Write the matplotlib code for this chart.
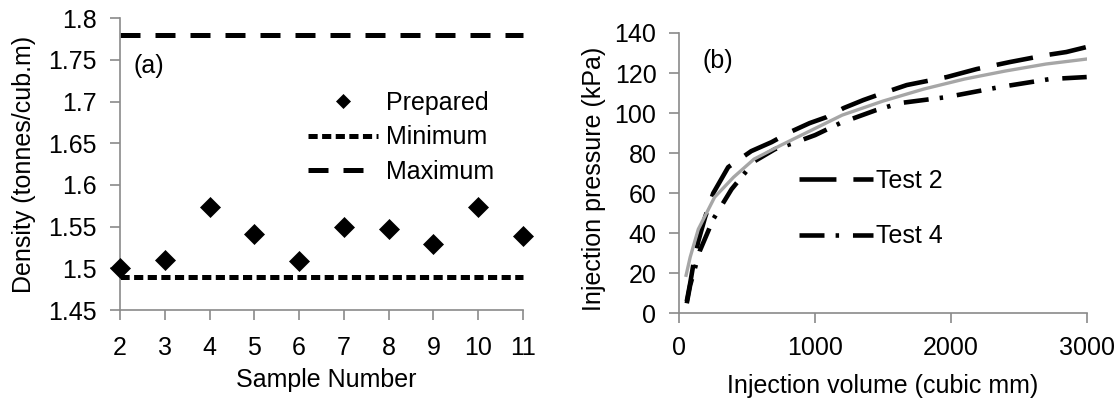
import matplotlib
matplotlib.use('Agg')
import matplotlib.pyplot as plt

plt.rcParams['font.family'] = ['Liberation Sans', 'DejaVu Sans']
plt.rcParams['lines.scale_dashes'] = False

# ---------------- data ----------------
samples = [2, 3, 4, 5, 6, 7, 8, 9, 10, 11]
density = [1.500, 1.510, 1.573, 1.541, 1.509, 1.549, 1.547, 1.529, 1.573, 1.539]
min_density = 1.49
max_density = 1.78
yticks_a = [1.45, 1.5, 1.55, 1.6, 1.65, 1.7, 1.75, 1.8]
yticklabels_a = ['1.45', '1.5', '1.55', '1.6', '1.65', '1.7', '1.75', '1.8']

test2_vol = [55, 80, 105, 140, 190, 250, 360, 530, 680, 815, 960, 1085, 1210,
             1355, 1500, 1675, 1970, 2190, 2435, 2705, 2850, 3000]
test2_pres = [6, 15, 25, 36, 48, 60, 73, 81, 85.5, 90.5, 95, 98, 102.5,
              106.5, 110, 114, 118, 122, 125.5, 129, 130.5, 133]
test4_vol = [55, 80, 150, 250, 385, 555, 705, 840, 1000, 1185, 1450, 1625,
             1970, 2360, 2730, 3000]
test4_pres = [5, 14, 31, 47, 62, 76, 82, 85, 89, 95, 101.5, 105,
              108, 113, 117, 118]
fit_vol = [50, 80, 140, 260, 400, 550, 750, 900, 1200, 1500, 1800, 2100, 2400, 2700, 3000]
fit_pres = [19, 28, 42, 58, 68, 77, 84, 89, 99, 106, 112, 117, 121, 124.5, 127]
xticks_b = [0, 1000, 2000, 3000]
yticks_b = [0, 20, 40, 60, 80, 100, 120, 140]

# ---------------- figure ----------------
W, H = 1120, 400
fig = plt.figure(figsize=(11.2, 4), dpi=100)


def px_axes(l, r, t, b):
    return fig.add_axes([l / W, 1 - b / H, (r - l) / W, (b - t) / H])


grey = '#8a8a8a'
FS = 18

axa = px_axes(120, 523, 18.3, 310)
axb = px_axes(679.3, 1086.7, 33, 313.3)

for ax in (axa, axb):
    for s in ('top', 'right'):
        ax.spines[s].set_visible(False)
    for s in ('left', 'bottom'):
        ax.spines[s].set_color(grey)
        ax.spines[s].set_linewidth(1.2)
    ax.tick_params(direction='out', length=7, width=1.2, color=grey,
                   labelsize=FS, labelcolor='black')

# ---- panel (a) ----
axa.plot(samples, density, ls='none', marker='D', ms=10.5, mfc='black', mec='black',
         mew=0.5, clip_on=False, zorder=4, label='Prepared')
axa.plot([samples[0], samples[-1]], [min_density, min_density], color='black', lw=3.6,
         dashes=(6.6, 3.2), clip_on=False, label='Minimum')
axa.plot([samples[0], samples[-1]], [max_density, max_density], color='black', lw=3.6,
         dashes=(14.4, 10.8), clip_on=False, label='Maximum')
axa.set_xlim(2, 11)
axa.set_ylim(1.45, 1.8)
axa.set_xticks(samples)
axa.set_xticklabels([str(s) for s in samples])
axa.set_yticks(yticks_a)
axa.set_yticklabels(yticklabels_a)
axa.tick_params(axis='x', pad=12)
axa.tick_params(axis='y', pad=10)

leg_a = axa.legend(loc='upper left', bbox_to_anchor=(308 / W, 1 - 91 / H),
                   bbox_transform=fig.transFigure, frameon=False, fontsize=FS,
                   handlelength=2.8, handletextpad=0.32, labelspacing=0.42,
                   borderpad=0, borderaxespad=0, markerscale=0.72, numpoints=1)

# ---- panel (b) ----
axb.plot(test2_vol, test2_pres, color='black', lw=3.3, dashes=(26.6, 12.2),
         label='Test 2', zorder=3)
axb.plot(test4_vol, test4_pres, color='black', lw=3.3, dashes=(18, 8, 2.5, 10),
         label='Test 4', zorder=3)
axb.plot(fit_vol, fit_pres, color='#a6a6a6', lw=2.4, zorder=4)
axb.set_xlim(0, 3000)
axb.set_ylim(0, 140)
axb.set_xticks(xticks_b)
axb.set_yticks(yticks_b)
axb.tick_params(axis='x', pad=9.5)
axb.tick_params(axis='y', pad=9.5)

leg_b = axb.legend(loc='upper left', bbox_to_anchor=(799 / W, 1 - 169 / H),
                   bbox_transform=fig.transFigure, frameon=False, fontsize=FS,
                   handlelength=2.94, handletextpad=0.12, labelspacing=1.25,
                   borderpad=0, borderaxespad=0)

# ---- texts ----
fig.text(149 / W, 1 - 66 / H, '(a)', fontsize=FS, ha='center', va='center')
fig.text(718 / W, 1 - 61 / H, '(b)', fontsize=FS, ha='center', va='center')
fig.text(326.7 / W, 1 - 387.3 / H, 'Sample Number', fontsize=FS, ha='center', va='baseline')
fig.text(883 / W, 1 - 392.7 / H, 'Injection volume (cubic mm)', fontsize=FS,
         ha='center', va='baseline')
fig.text(24.5 / W, 1 - 164 / H, 'Density (tonnes/cub.m)', fontsize=FS, rotation=90,
         ha='center', va='center')
fig.text(594 / W, 1 - 179 / H, 'Injection pressure (kPa)', fontsize=FS, rotation=90,
         ha='center', va='center')

fig.savefig('out.png', dpi=100)
